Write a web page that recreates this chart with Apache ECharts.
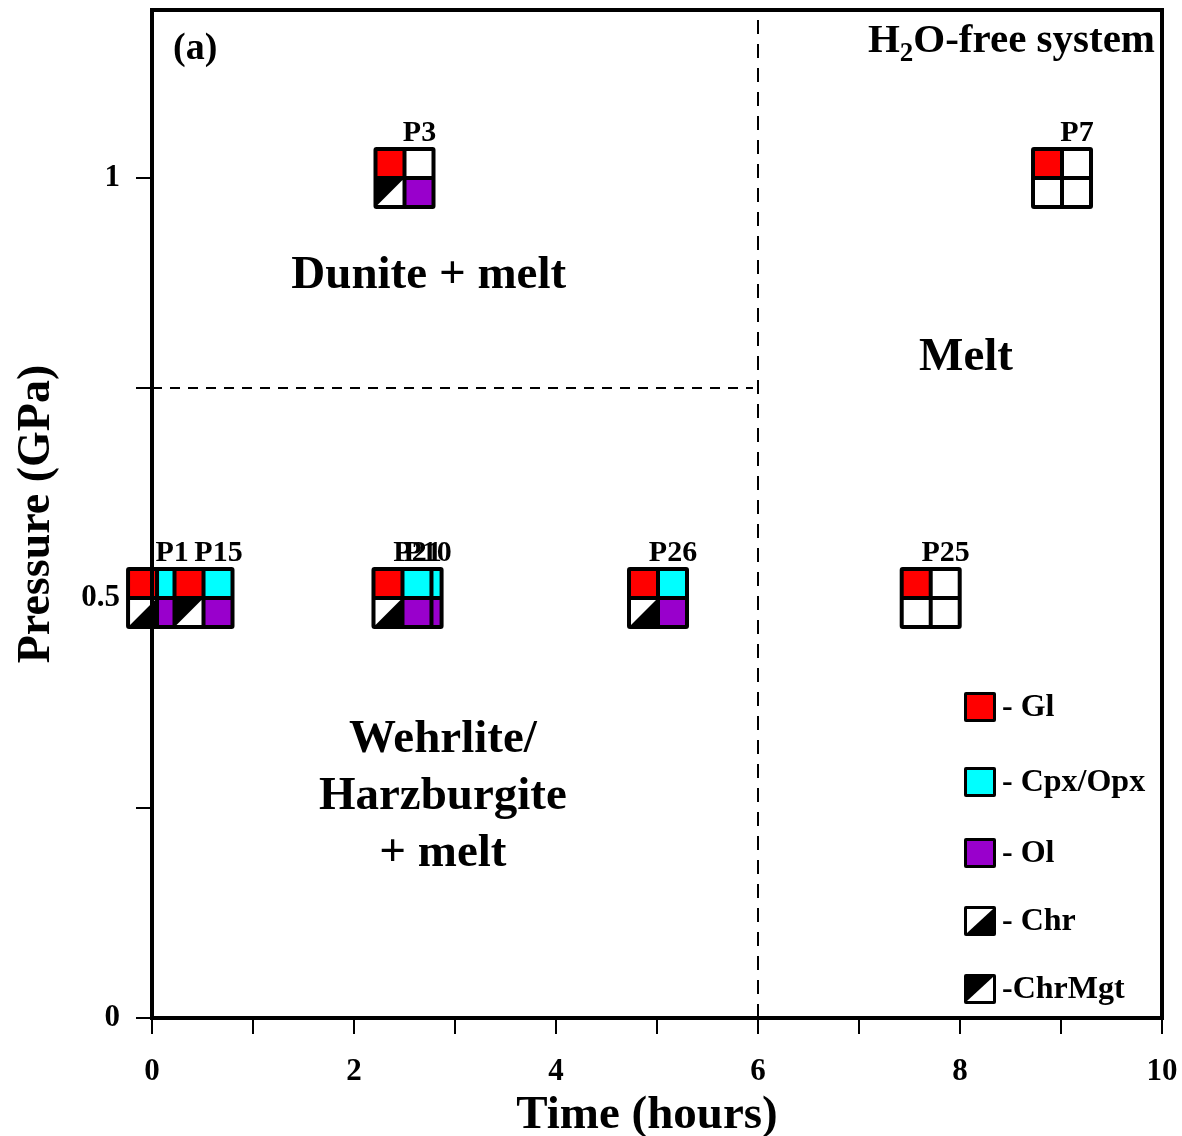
<!DOCTYPE html>
<html><head><meta charset="utf-8">
<script src="https://cdn.jsdelivr.net/npm/echarts@6/dist/echarts.min.js"></script>
<style>html,body{margin:0;padding:0;background:#fff}#c{width:1182px;height:1136px}</style>
</head><body><div id="c"></div>
<script>
// ---- data ----
const sampleNames    = ['P1', 'P15', 'P10', 'P21', 'P26', 'P3', 'P25', 'P7'];
const sampleTime     = [0.05, 0.51, 2.58, 2.48, 5.01, 2.50, 7.71, 9.01];
const samplePressure = [0.5, 0.5, 0.5, 0.5, 0.5, 1.0, 0.5, 1.0];
const hasGl          = [1, 1, 1, 1, 1, 1, 1, 1];
const hasCpx         = [1, 1, 1, 1, 1, 0, 0, 0];
const chromite       = [1, 2, 1, 1, 1, 2, 0, 0]; // 0 none, 1 Chr, 2 ChrMgt
const hasOl          = [1, 1, 1, 1, 1, 1, 0, 0];

const meltBoundaryTime = [6, 6];
const meltBoundaryPressure = [0, 1.2];
const duniteBoundaryTime = [0, 5.95];
const duniteBoundaryPressure = [0.75, 0.75];

const regionLabels = ['Dunite + melt', 'Melt', 'Wehrlite/\nHarzburgite\n+ melt'];
const regionTime = [2.74, 8.06, 2.88];
const regionPressure = [0.883, 0.786, 0.263];

const xTickValues = [0, 1, 2, 3, 4, 5, 6, 7, 8, 9, 10];
const xLabelValues = [0, 2, 4, 6, 8, 10];
const yTickValues = [0, 0.25, 0.5, 0.75, 1];
const yLabelValues = [0, 0.5, 1];

const legendNames = ['- Gl', '- Cpx/Opx', '- Ol', '- Chr', '-ChrMgt'];
const legendKinds = ['gl', 'cpx', 'ol', 'chr', 'chrmgt'];

// ---- styles ----
const FF = "'Liberation Serif', 'Times New Roman', serif";
const RED = '#ff0000', CYAN = '#00ffff', PURPLE = '#9900cc';

function cellShapes(kind, x0, y0, w, h) {
  const out = [];
  if (kind === 'chr' || kind === 'chrmgt') {
    out.push({type: 'rect', shape: {x: x0, y: y0, width: w, height: h}, style: {fill: '#000'}});
    const pts = kind === 'chr'
      ? [[x0, y0], [x0 + w, y0], [x0, y0 + h]]
      : [[x0 + w, y0], [x0 + w, y0 + h], [x0, y0 + h]];
    out.push({type: 'polygon', shape: {points: pts}, style: {fill: '#fff'}});
  } else {
    const fill = kind === 'gl' ? RED : kind === 'cpx' ? CYAN : kind === 'ol' ? PURPLE : '#fff';
    out.push({type: 'rect', shape: {x: x0, y: y0, width: w, height: h}, style: {fill: fill}});
  }
  return out;
}

function renderSample(params, api) {
  const i = api.value(2);
  const c = api.coord([api.value(0), api.value(1)]);
  const x = c[0], y = c[1];
  const H = 31, B = 4, G = 2, C = H - B - G; // half size, border, half gap, cell
  const children = [];
  children.push({type: 'rect', shape: {x: x - H, y: y - H, width: 2 * H, height: 2 * H, r: 3}, style: {fill: '#000'}});
  const tl = hasGl[i] ? 'gl' : 'none';
  const tr = hasCpx[i] ? 'cpx' : 'none';
  const bl = chromite[i] === 1 ? 'chr' : chromite[i] === 2 ? 'chrmgt' : 'none';
  const br = hasOl[i] ? 'ol' : 'none';
  children.push(...cellShapes(tl, x - H + B, y - H + B, C, C));
  children.push(...cellShapes(tr, x + G, y - H + B, C, C));
  children.push(...cellShapes(bl, x - H + B, y + G, C, C));
  children.push(...cellShapes(br, x + G, y + G, C, C));
  children.push({type: 'text', style: {text: sampleNames[i], x: x + 15, y: y - 45, align: 'center', verticalAlign: 'middle',
    fontSize: 30, fontWeight: 'bold', fontFamily: FF, fill: '#000'}});
  return {type: 'group', children: children};
}

function renderRegion(params, api) {
  const i = api.value(2);
  const c = api.coord([api.value(0), api.value(1)]);
  return {type: 'text', style: {text: regionLabels[i], x: c[0], y: c[1], align: 'center', verticalAlign: 'middle',
    fontSize: 47, lineHeight: 57, fontWeight: 'bold', fontFamily: FF, fill: '#000'}};
}

// legend graphics
const legendTops = [692, 767, 838, 906, 974];
const legendGraphics = legendNames.map((name, i) => {
  const kind = legendKinds[i];
  const w = 32, h = 30;
  const kids = [{type: 'rect', shape: {x: 0, y: 0, width: w, height: h, r: 2}, style: {fill: '#000'}}];
  kids.push(...cellShapes(kind, 3, 3, w - 6, h - 6));
  kids.push({type: 'text', style: {text: name, x: 38, y: h / 2 + 1, verticalAlign: 'middle', align: 'left',
    fontSize: 32, fontWeight: 'bold', fontFamily: FF, fill: '#000'}});
  return {type: 'group', x: 964, y: legendTops[i], children: kids};
});

// "H2O-free system" with a lowered subscript, pieces laid out right-to-left
const measureCtx = document.createElement('canvas').getContext('2d');
function textWidth(t, size) { measureCtx.font = 'bold ' + size + 'px ' + FF; return measureCtx.measureText(t).width; }
const titleRight = 1155;
const wRest = textWidth('O-free system', 41);
const wSub = textWidth('2', 27);
const titleGraphics = [
  {type: 'text', style: {text: 'O-free system', x: titleRight, y: 41, align: 'right', verticalAlign: 'middle',
    fontSize: 41, fontWeight: 'bold', fontFamily: FF, fill: '#000'}},
  {type: 'text', style: {text: '2', x: titleRight - wRest, y: 54, align: 'right', verticalAlign: 'middle',
    fontSize: 27, fontWeight: 'bold', fontFamily: FF, fill: '#000'}},
  {type: 'text', style: {text: 'H', x: titleRight - wRest - wSub, y: 41, align: 'right', verticalAlign: 'middle',
    fontSize: 41, fontWeight: 'bold', fontFamily: FF, fill: '#000'}}
];

const chart = echarts.init(document.getElementById('c'));
chart.setOption({
  animation: false,
  backgroundColor: '#fff',
  grid: {left: 152, right: 20, top: 10, bottom: 118, show: true, borderColor: '#000', borderWidth: 4,
    outerBoundsMode: 'none', containLabel: false},
  xAxis: {
    type: 'value', min: 0, max: 10, interval: 1, z: 10,
    axisLine: {lineStyle: {color: '#000', width: 4}},
    axisTick: {inside: false, length: 16, lineStyle: {color: '#000', width: 2}, customValues: xTickValues},
    axisLabel: {customValues: xLabelValues, margin: 38, fontSize: 31, fontWeight: 'bold', fontFamily: FF, color: '#000'},
    splitLine: {show: false},
    name: 'Time (hours)', nameLocation: 'middle', nameGap: 74,
    nameTextStyle: {fontSize: 47, fontWeight: 'bold', fontFamily: FF, color: '#000', padding: [0, 20, 0, 0]}
  },
  yAxis: {
    type: 'value', min: 0, max: 1.2, interval: 0.25, z: 10,
    axisLine: {lineStyle: {color: '#000', width: 4}},
    axisTick: {inside: false, length: 16, lineStyle: {color: '#000', width: 2}, customValues: yTickValues},
    axisLabel: {customValues: yLabelValues, margin: 32, fontSize: 31, fontWeight: 'bold', fontFamily: FF, color: '#000'},
    splitLine: {show: false},
    name: 'Pressure (GPa)', nameLocation: 'middle', nameGap: 92,
    nameTextStyle: {fontSize: 46, fontWeight: 'bold', fontFamily: FF, color: '#000'}
  },
  graphic: [
    {type: 'text', left: 173, top: 30, style: {text: '(a)', fontSize: 38, fontWeight: 'bold', fontFamily: FF, fill: '#000'}},
    ...titleGraphics,
    ...legendGraphics
  ],
  series: [
    {type: 'line', silent: true, symbol: 'none', data: meltBoundaryTime.map((t, i) => [t, meltBoundaryPressure[i]]),
      lineStyle: {color: '#000', width: 2, type: [14, 10]}},
    {type: 'line', silent: true, symbol: 'none', data: duniteBoundaryTime.map((t, i) => [t, duniteBoundaryPressure[i]]),
      lineStyle: {color: '#000', width: 2, type: [10, 8]}},
    {type: 'custom', silent: true, renderItem: renderRegion, encode: {x: 0, y: 1},
      data: regionLabels.map((l, i) => [regionTime[i], regionPressure[i], i])},
    {type: 'custom', silent: true, renderItem: renderSample, encode: {x: 0, y: 1}, clip: false,
      data: sampleNames.map((n, i) => [sampleTime[i], samplePressure[i], i])}
  ]
});
</script></body></html>
